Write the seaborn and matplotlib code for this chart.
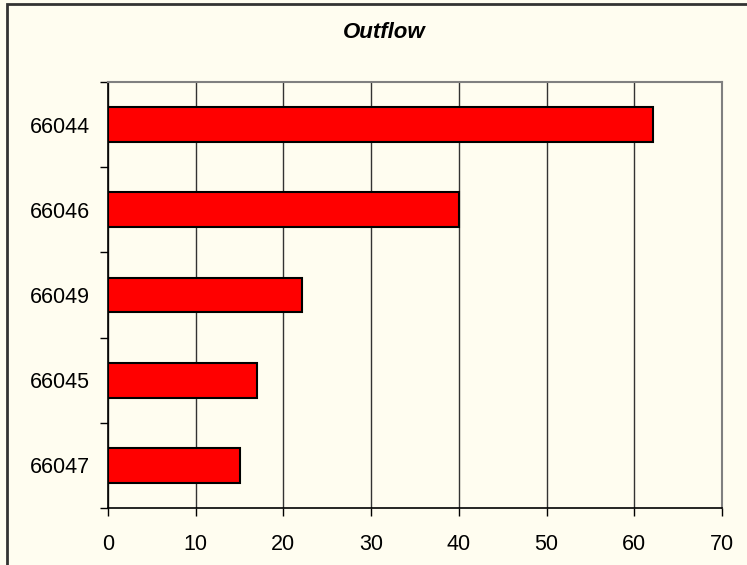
import matplotlib
matplotlib.use("Agg")
import matplotlib.pyplot as plt
import seaborn as sns
import pandas as pd
from matplotlib.patches import Rectangle

categories = ["66044", "66046", "66049", "66045", "66047"]
outflow = [62.1, 40.0, 22.1, 17.0, 15.1]
x_ticks = [0, 10, 20, 30, 40, 50, 60, 70]

sns.set_style("white")
plt.rcParams["font.family"] = ["Liberation Sans", "DejaVu Sans"]
plt.rcParams["text.color"] = "black"
plt.rcParams["xtick.color"] = "black"
plt.rcParams["ytick.color"] = "black"
plt.rcParams["axes.labelcolor"] = "black"

bg = "#FFFDF0"
fig = plt.figure(figsize=(7.47, 5.65), dpi=100, facecolor=bg)
ax = fig.add_axes([108/747, 1-508/565, (722-108)/747, (508-82)/565])
ax.set_facecolor(bg)

df = pd.DataFrame({"cat": categories, "val": outflow})
sns.barplot(data=df, y="cat", x="val", orient="h", color="#FF0000",
            width=0.41, edgecolor="black", linewidth=1.5, saturation=1, ax=ax, zorder=3)

ax.set_xlim(0, 70)
ax.set_ylim(4.5, -0.5)
ax.set_xticks(x_ticks)
ax.set_xticklabels([str(t) for t in x_ticks], fontsize=15.5, color="black")
ax.set_yticks(range(len(categories)))
ax.set_yticklabels(categories, fontsize=15.5, color="black")
ax.set_yticks([i - 0.5 for i in range(len(categories) + 1)], minor=True)
ax.tick_params(axis="y", which="major", left=True, length=0, pad=13)
ax.tick_params(axis="y", which="minor", left=True, length=6, width=1,
               direction="out", color="black")
ax.tick_params(axis="x", which="major", bottom=True, length=6, width=1,
               direction="out", color="black", pad=13)
ax.set_xlabel("")
ax.set_ylabel("")

ax.grid(axis="x", color="#333333", linewidth=1, zorder=0)
ax.set_axisbelow(True)
for s in ["top", "right"]:
    ax.spines[s].set_color("#808080")
    ax.spines[s].set_linewidth(1.5)
for s in ["left", "bottom"]:
    ax.spines[s].set_color("black")
    ax.spines[s].set_linewidth(1.2)
    ax.spines[s].set_visible(True)

fig.text(0.515, 1 - 32/565, "Outflow", ha="center", va="center",
         fontsize=16, fontweight="bold", fontstyle="italic", color="black")

fig.patches.append(Rectangle((6.5/747, -0.05), 1.2, 1 - 4/565 + 0.05,
                             transform=fig.transFigure, fill=False,
                             edgecolor="#333333", linewidth=2))

fig.savefig("out.png", dpi=100, facecolor=bg)
